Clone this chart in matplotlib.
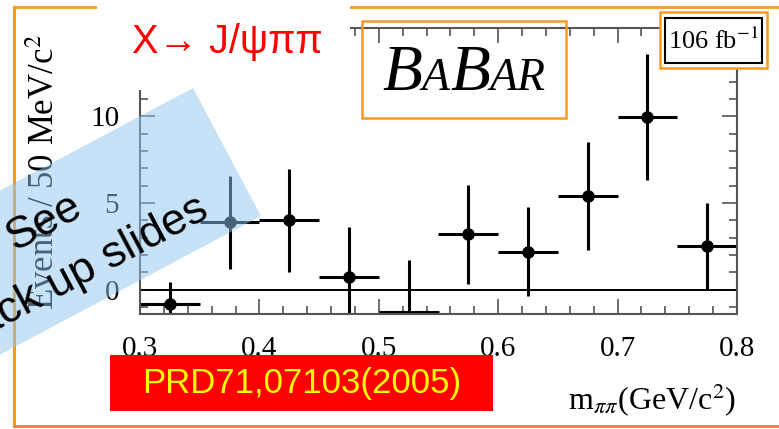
import numpy as np
import matplotlib.pyplot as plt
from matplotlib.patches import Rectangle, Polygon
from matplotlib.lines import Line2D
from matplotlib.ticker import MultipleLocator

plt.rcParams['font.family'] = ['Liberation Serif', 'DejaVu Serif']
plt.rcParams['mathtext.fontset'] = 'stix'

# m(pi pi) bin centres (GeV/c^2), events per 50 MeV/c^2 and their errors
mpipi = np.array([0.325, 0.375, 0.425, 0.475, 0.525, 0.575, 0.625, 0.675, 0.725, 0.775])
events = np.array([-0.8, 3.9, 4.0, 0.75, -1.6, 3.2, 2.2, 5.4, 9.95, 2.5])
errors = np.array([1.27, 2.68, 2.95, 2.85, 3.3, 2.85, 2.55, 3.1, 3.64, 2.5])
half_bin = 0.025
xticks = [0.3, 0.4, 0.5, 0.6, 0.7, 0.8]
yticks = [0, 5, 10]

W, H = 779, 429
fig = plt.figure(figsize=(W / 100, H / 100), dpi=100)


def fx(x):
    return x / W


def fy(y):
    return 1 - y / H


# plot area
ax = fig.add_axes([fx(140), fy(314), 597 / W, 286 / H])
ylo, yhi = -1.4, 15.1
ax.set_xlim(0.3, 0.8)
ax.set_ylim(ylo, yhi)

ax.axhline(0, color='black', lw=1.4)
ax.vlines(mpipi, events - errors, events + errors, color='black', lw=2.2)
# points below the frame get their x-bar drawn on the frame edge
hy = np.maximum(events, ylo + 0.12)
ax.hlines(hy, mpipi - half_bin, mpipi + half_bin, color='black', lw=2.2)
inside = events > ylo
ax.plot(mpipi[inside], events[inside], 'o', color='black', ms=8)

ax.set_xticks(xticks)
ax.set_xticklabels([f'{v:.1f}' for v in xticks])
ax.set_yticks(yticks)
ax.xaxis.set_minor_locator(MultipleLocator(0.02))
ax.yaxis.set_minor_locator(MultipleLocator(1))
ax.tick_params(which='both', direction='in', top=True, right=True, color='#555555', width=1.2)
ax.tick_params(which='major', length=11, labelsize=21)
ax.tick_params(which='minor', length=5.5)
ax.tick_params(axis='x', pad=16)
ax.tick_params(axis='y', pad=15)
for sp in ax.spines.values():
    sp.set_color('#555555')
    sp.set_linewidth(1.5)

fig.text(fx(46), fy(172), 'Events / 50 MeV/c$^2$', rotation=90, ha='center', va='center', fontsize=25)
fig.text(fx(652), fy(410), r'm$_{\pi\pi}$(GeV/c$^2$)', ha='center', va='baseline', fontsize=23)

# slide frame
orange = '#f59a23'
fig.add_artist(Line2D([fx(14), fx(14)], [fy(7), fy(426)], color=orange, lw=2.2))
fig.add_artist(Line2D([fx(14), fx(779)], [fy(7), fy(7)], color=orange, lw=2.0))
fig.add_artist(Line2D([fx(14), fx(779)], [fy(426), fy(426)], color='#ee7d4e', lw=2.0))

# white title patch
fig.add_artist(Rectangle((fx(97), fy(90)), 253 / W, 90 / H, facecolor='white', edgecolor='none', zorder=5))
fig.text(fx(132), fy(53), 'X→ J/ψππ', color='#ff0000', fontsize=28.5,
         family=['Liberation Sans', 'DejaVu Sans'], zorder=6)

# BaBar logo
fig.add_artist(Rectangle((fx(362), fy(118)), 204 / W, 97 / H, facecolor='none', edgecolor=orange, lw=1.8, zorder=5))
renderer = fig.canvas.get_renderer()
parts = [('B', 47), ('A', 33), ('B', 47), ('AR', 33)]
pieces = [fig.text(0, fy(90), s, fontsize=size, style='italic', va='baseline', ha='left', zorder=6)
          for s, size in parts]
widths = [t.get_window_extent(renderer).width for t in pieces]
x0 = 464 - sum(widths) / 2
for t, w in zip(pieces, widths):
    t.set_x(fx(x0))
    x0 += w

# luminosity box
fig.add_artist(Rectangle((fx(660), fy(68)), 107 / W, 56 / H, facecolor='white', edgecolor=orange, lw=1.8, zorder=5))
fig.add_artist(Rectangle((fx(665), fy(63)), 97 / W, 45 / H, facecolor='none', edgecolor='black', lw=1.5, zorder=6))
fig.text(fx(713), fy(41), '106 fb$^{-1}$', ha='center', va='center', fontsize=19, zorder=7)

# reference box
fig.add_artist(Rectangle((fx(110), fy(411)), 383 / W, 56 / H, facecolor='#ff0000', edgecolor='none', zorder=9))
fig.text(fx(301.5), fy(383), 'PRD71,07103(2005)', color='#ffff00', ha='center', va='center', fontsize=25,
         family=['Liberation Sans', 'DejaVu Sans'], zorder=10)

# translucent "see back up slides" banner
ux, uy = -0.883, 0.469
band = [(193, 88), (261, 216), (261 + 450 * ux, 216 + 450 * uy), (193 + 450 * ux, 88 + 450 * uy)]
fig.add_artist(Polygon([(fx(x), fy(y)) for x, y in band], closed=True, facecolor='#91c5f1', alpha=0.5,
                       edgecolor='none', zorder=7))
fig.text(fx(50), fy(232), 'See', rotation=28, rotation_mode='anchor', ha='center', va='baseline',
         fontsize=32, family=['Liberation Sans', 'DejaVu Sans'], zorder=8)
fig.text(fx(86), fy(283), 'back up slides', rotation=28, rotation_mode='anchor', ha='center', va='baseline',
         fontsize=32, family=['Liberation Sans', 'DejaVu Sans'], zorder=8)

fig.savefig('out.png', dpi=100)
